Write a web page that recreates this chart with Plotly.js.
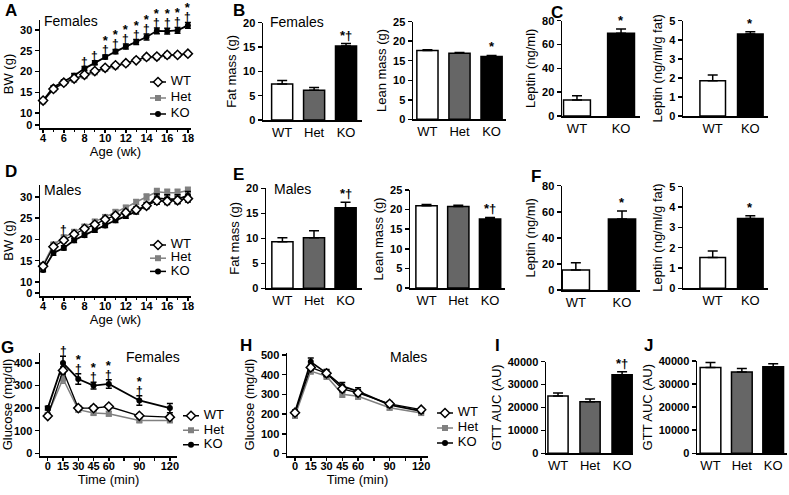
<!DOCTYPE html>
<html><head><meta charset="utf-8">
<script src="https://cdn.plot.ly/plotly-3.0.1.min.js"></script>
<style>html,body{margin:0;padding:0;background:#fff}#chart{width:789px;height:495px}</style>
</head><body><div id="chart"></div>
<script>
// ---------------- DATA ----------------
const weeks = [4,5,6,7,8,9,10,11,12,13,14,15,16,17,18];
const femWT    = [13.0,15.8,17.3,18.3,19.2,20.1,20.9,21.5,22.0,22.7,23.5,23.6,24.0,24.0,24.3];
const femWTErr = [0.4,0.4,0.4,0.4,0.4,0.4,0.4,0.4,0.4,0.4,0.4,0.5,0.6,0.4,0.4];
const femHet   = [12.8,15.7,17.2,18.0,18.9,19.8,20.6,21.2,21.9,22.8,23.3,23.4,23.8,24.0,24.2];
const femHetErr= [0.4,0.4,0.4,0.4,0.4,0.4,0.4,0.4,0.4,0.4,0.4,0.4,0.4,0.4,0.4];
const femKO    = [13.0,16.2,17.6,19.0,20.7,22.1,23.5,24.8,26.0,27.1,28.3,29.8,29.7,29.9,31.1];
const femKOErr = [0.4,0.4,0.4,0.5,0.5,0.5,0.5,0.5,0.6,0.6,0.7,0.7,0.7,0.7,0.7];
const femSig   = ['','','','','†','†','*†','*†','*†','*†','*†','*†','*†','*†','*†'];

const maleWT    = [13.7,18.3,19.8,21.2,22.5,23.5,24.7,25.6,26.3,27.0,27.9,29.1,29.0,29.2,29.6];
const maleWTErr = [0.4,0.5,0.5,0.5,0.5,0.5,0.5,0.5,0.5,0.6,0.6,0.8,0.8,0.8,0.8];
const maleHet   = [14.0,18.8,20.5,21.8,23.0,24.2,25.3,26.5,27.5,28.8,30.0,31.2,31.0,31.0,31.5];
const maleHetErr= [0.4,0.5,0.5,0.5,0.5,0.5,0.5,0.5,0.5,0.6,0.7,0.8,0.8,0.8,0.8];
const maleKO    = [12.8,16.8,18.0,19.8,21.0,22.2,23.3,24.5,25.5,26.6,28.0,29.7,29.5,29.5,30.3];
const maleKOErr = [0.4,0.5,0.5,0.5,0.5,0.5,0.5,0.5,0.5,0.6,0.7,1.0,1.0,1.0,1.0];
const maleSig   = ['','','†','','','','','','','','','','','',''];

const bwTickValsF = [7.1,10,15,20,25,30];
const bwTickValsM = [7.4,10,15,20,25,30];
const bwTickText  = ['0','10','15','20','25','30'];

const times = [0,15,30,45,60,90,120];
const timeTickVals = [0,15,30,45,60,75,90,105,120];
const timeTickText = ['0','15','30','45','60','','90','','120'];
const gFemWT     = [165,367,200,200,207,166,160];
const gFemWTErr  = [8,15,10,10,8,8,8];
const gFemHet    = [170,330,193,178,175,145,145];
const gFemHetErr = [8,20,10,8,10,8,8];
const gFemKO     = [200,400,329,300,307,234,200];
const gFemKOErr  = [8,30,23,15,19,21,20];
const gFemSig    = ['','†','*†','*†','*†','*†',''];

const gMaleWT     = [207,437,407,328,308,252,222];
const gMaleWTErr  = [10,15,15,15,15,12,10];
const gMaleHet    = [190,418,392,300,290,232,205];
const gMaleHetErr = [10,15,15,15,15,12,10];
const gMaleKO     = [210,465,408,342,315,247,215];
const gMaleKOErr  = [10,20,18,18,18,12,10];

const groups3 = ['WT','Het','KO'];
const groups2 = ['WT','KO'];
const fatF = [7.4,6.1,15.2],      fatFErr = [0.7,0.6,0.5],     fatFSig = ['','','*†'];
const leanF = [17.6,16.9,16.1],   leanFErr = [0.2,0.2,0.25],   leanFSig = ['','','*'];
const lepF = [13.5,69.5],         lepFErr = [3.5,3.5],         lepFSig = ['','*'];
const lepFatF = [1.85,4.3],       lepFatFErr = [0.3,0.12],     lepFatFSig = ['','*'];
const fatM = [9.3,10.1,16.1],     fatMErr = [0.8,1.4,1.1],     fatMSig = ['','','*†'];
const leanM = [21.0,20.8,17.6],   leanMErr = [0.3,0.3,0.4],    leanMSig = ['','','*†'];
const lepM = [15.4,54.5],         lepMErr = [5.5,6],           lepMSig = ['','*'];
const lepFatM = [1.52,3.44],      lepFatMErr = [0.32,0.13],    lepFatMSig = ['','*'];
const aucF = [25000,22500,34300], aucFErr = [1300,1200,1300],  aucFSig = ['','','*†'];
const aucM = [37200,35200,37500], aucMErr = [2200,1500,1300],  aucMSig = ['','',''];

const legendNames = ['WT','Het','KO'];
const legendRows  = [0,1,2];

// ---------------- STYLE / LAYOUT ----------------
const FONT = 'Liberation Sans, Arial, Helvetica, sans-serif';
const W = 789, H = 495;
const barColors3 = ['#ffffff','#666666','#000000'];
const barColors2 = ['#ffffff','#000000'];
const px = (a,b) => [a/W, b/W];
const py = (top,bot) => [1-bot/H, 1-top/H];

const layout = {
  width: W, height: H, margin:{l:0,r:0,t:0,b:0},
  paper_bgcolor:'#fff', plot_bgcolor:'rgba(0,0,0,0)',
  font:{family:FONT, color:'#000'},
  showlegend:false, annotations:[], shapes:[]
};
const traces = [];

function axisBase(){
  return {showline:true, linecolor:'#000', linewidth:1.5, showgrid:false, zeroline:false,
          ticks:'outside', ticklen:4, tickwidth:1.5, tickcolor:'#000', fixedrange:true,
          tickfont:{family:FONT, size:11, weight:'bold', color:'#000'}};
}
function title(t, s){ return {text:t, font:{family:FONT, size:13, color:'#000'}, standoff:s}; }

let nAx = 0;
function addAxes(xd, yd, xopt, yopt){
  nAx++;
  const xn = nAx===1 ? 'xaxis' : 'xaxis'+nAx, yn = nAx===1 ? 'yaxis' : 'yaxis'+nAx;
  const xr = nAx===1 ? 'x' : 'x'+nAx, yr = nAx===1 ? 'y' : 'y'+nAx;
  layout[xn] = Object.assign(axisBase(), {domain:xd, anchor:yr}, xopt);
  layout[yn] = Object.assign(axisBase(), {domain:yd, anchor:xr}, yopt);
  return {xr, yr};
}

function sigBar(ax, x, y, text){
  if(!text) return;
  layout.annotations.push({xref:ax.xr, yref:ax.yr, x:x, y:y, text:text, showarrow:false, borderpad:0,
    yanchor:'bottom', yshift:0, font:{family:FONT, size:13, weight:'bold', color:'#000'}});
}
// "*" stacked above "†" in one text, with tight line spacing
function sigStack(ax, x, y, text){
  if(!text) return;
  const parts = [];
  if(text.includes('*')) parts.push('<span style="font-size:13px">*</span>');
  if(text.includes('†')) parts.push('<span style="font-size:12px">†</span>');
  layout.annotations.push({xref:ax.xr, yref:ax.yr, x:x, y:y, text:parts.join('<br>'), showarrow:false, borderpad:0,
    yanchor:'bottom', yshift:-3, font:{family:FONT, size:7, weight:'bold', color:'#000'}});
}

function barPanel(xd, yd, cats, vals, errs, sig, xrange, width, yrange, dtick, ytitle){
  const ax = addAxes(xd, yd,
    {type:'category', range:xrange, ticks:'', tickfont:{family:FONT,size:13,color:'#000'}},
    {range:yrange, dtick:dtick, tick0:0, tickformat:'d', title:title(ytitle,3)});
  traces.push({type:'bar', x:cats, y:vals, xaxis:ax.xr, yaxis:ax.yr, width:width, showlegend:false,
    marker:{color:cats.length===3?barColors3:barColors2, line:{color:'#000', width:1.5}},
    error_y:{type:'data', array:errs, arrayminus:errs.map(()=>0), symmetric:false,
             color:'#000', thickness:1.5, width:5}});
  cats.forEach((c,i)=>sigBar(ax, c, vals[i]+errs[i], sig[i]));
  return ax;
}

const SER = {
  WT:{marker:{symbol:'diamond', size:7, color:'#fff', line:{color:'#000', width:1.5}}, line:{color:'#000', width:1.3}, ec:'#000'},
  Het:{marker:{symbol:'square', size:6, color:'#808080', line:{color:'#808080', width:0}}, line:{color:'#808080', width:1.5}, ec:'#808080'},
  KO:{marker:{symbol:'circle', size:6, color:'#000', line:{color:'#000', width:0}}, line:{color:'#000', width:1.8}, ec:'#000'}
};
function lineSeries(ax, name, x, y, err){
  const s = SER[name];
  traces.push({type:'scatter', mode:'lines+markers', name:name, x:x, y:y, xaxis:ax.xr, yaxis:ax.yr,
    showlegend:false, marker:s.marker, line:s.line, cliponaxis:false,
    error_y:{type:'data', array:err, color:s.ec, thickness:1.5, width:3}});
}
// small key drawn as its own mini plot: line segment, marker, and label per series
// x units: 1 unit = 16 px; line spans [0,1], marker at 0.5, label starts at 1.3
const keySpan = [0,1], keyMid = 0.5, keyText = 1.3, keyRange = [0,2.5];
function miniLegend(x0, yd){
  const ax = addAxes(px(x0, x0+40), yd, {visible:false, range:keyRange}, {visible:false, range:[legendRows.length-0.5,-0.5]});
  legendNames.forEach((n,i)=>{
    const s = SER[n];
    traces.push({type:'scatter', mode:'lines', x:keySpan, y:[legendRows[i],legendRows[i]], xaxis:ax.xr, yaxis:ax.yr,
      line:{color:s.line.color, width:1.5}, showlegend:false, cliponaxis:false, hoverinfo:'skip'});
    traces.push({type:'scatter', mode:'markers', x:[keyMid], y:[legendRows[i]], xaxis:ax.xr, yaxis:ax.yr,
      marker:s.marker, showlegend:false, cliponaxis:false, hoverinfo:'skip'});
    traces.push({type:'scatter', mode:'text', x:[keyText], y:[legendRows[i]], text:[n], textposition:'middle right',
      textfont:{family:FONT, size:13, color:'#000'}, xaxis:ax.xr, yaxis:ax.yr, showlegend:false, cliponaxis:false, hoverinfo:'skip'});
  });
}
function label(t, x, y, size, bold){
  layout.annotations.push({xref:'paper', yref:'paper', x:x/W, y:1-y/H, text:t, showarrow:false,
    xanchor:'center', yanchor:'middle', font:{family:FONT, size:size, color:'#000', weight: bold?'bold':'normal'}});
}
const xTickTight = {ticklen:3, ticklabelstandoff:-4};

// ---- A: female body weight
const axA = addAxes(px(40,191), py(20,128),
  Object.assign({range:[3.7,18.3], tick0:4, dtick:2, minor:{dtick:1, ticklen:2, tickwidth:1, ticks:'outside', tickcolor:'#000'}, title:title('Age (wk)',0)}, xTickTight),
  {range:[6.4,32.4], tickvals:bwTickValsF, ticktext:bwTickText, title:title('BW (g)',3)});
lineSeries(axA,'Het',weeks,femHet,femHetErr);
lineSeries(axA,'KO',weeks,femKO,femKOErr);
lineSeries(axA,'WT',weeks,femWT,femWTErr);
weeks.forEach((w,i)=>sigStack(axA, w, Math.max(femKO[i]+femKOErr[i], femWT[i]+femWTErr[i], femHet[i]+femHetErr[i]), femSig[i]));
miniLegend(150, py(74,122));

// ---- B
barPanel(px(263,362), py(22.7,120), groups3, fatF, fatFErr, fatFSig, [-0.6,2.5], 0.66, [0,20], 5, 'Fat mass (g)');
barPanel(px(413,506), py(21.7,119.3), groups3, leanF, leanFErr, leanFSig, [-0.45,2.45], 0.66, [0,25], 5, 'Lean mass (g)');
// ---- C
barPanel(px(562,640), py(20.7,116), groups2, lepF, lepFErr, lepFSig, [-0.34,1.43], 0.61, [0,80], 20, 'Leptin (ng/ml)');
barPanel(px(683,768), py(20.7,116), groups2, lepFatF, lepFatFErr, lepFatFSig, [-0.79,1.47], 0.68, [0,5], 1, 'Leptin (ng/ml/g fat)');

// ---- D: male body weight
const axD = addAxes(px(40,191), py(185,296),
  Object.assign({range:[3.7,18.3], tick0:4, dtick:2, minor:{dtick:1, ticklen:2, tickwidth:1, ticks:'outside', tickcolor:'#000'}, title:title('Age (wk)',0)}, xTickTight),
  {range:[6.7,32.8], tickvals:bwTickValsM, ticktext:bwTickText, title:title('BW (g)',3)});
lineSeries(axD,'Het',weeks,maleHet,maleHetErr);
lineSeries(axD,'KO',weeks,maleKO,maleKOErr);
lineSeries(axD,'WT',weeks,maleWT,maleWTErr);
weeks.forEach((w,i)=>sigStack(axD, w, Math.max(maleKO[i]+maleKOErr[i], maleWT[i]+maleWTErr[i], maleHet[i]+maleHetErr[i]), maleSig[i]));
miniLegend(150, py(238.4,278));

// ---- E
barPanel(px(266,362), py(188.3,288.3), groups3, fatM, fatMErr, fatMSig, [-0.52,2.52], 0.67, [0,20], 5, 'Fat mass (g)');
barPanel(px(410,505), py(190,288), groups3, leanM, leanMErr, leanMSig, [-0.52,2.47], 0.67, [0,25], 5, 'Lean mass (g)');
// ---- F
barPanel(px(562,640), py(185.7,290), groups2, lepM, lepMErr, lepMSig, [-0.3,1.39], 0.59, [0,80], 20, 'Leptin (ng/ml)');
barPanel(px(683,768), py(186.7,288.3), groups2, lepFatM, lepFatMErr, lepFatMSig, [-0.79,1.47], 0.68, [0,5], 1, 'Leptin (ng/ml/g fat)');

// ---- G: female GTT
const axG = addAxes(px(40,177), py(353,456),
  Object.assign({range:[-7.6,127], tickvals:timeTickVals, ticktext:timeTickText, title:title('Time (min)',0)}, xTickTight),
  {range:[-12,444], tickvals:[0,100,200,300,400], title:title('Glucose (mg/dl)',3)});
lineSeries(axG,'Het',times,gFemHet,gFemHetErr);
lineSeries(axG,'KO',times,gFemKO,gFemKOErr);
lineSeries(axG,'WT',times,gFemWT,gFemWTErr);
times.forEach((t,i)=>sigStack(axG, t, gFemKO[i]+gFemKOErr[i], gFemSig[i]));
miniLegend(183, py(408.5,452));

// ---- H: male GTT
const axH = addAxes(px(287,428), py(353,456),
  Object.assign({range:[-7.6,126.5], tickvals:timeTickVals, ticktext:timeTickText, title:title('Time (min)',0)}, xTickTight),
  {range:[-13,510], tickvals:[0,100,200,300,400,500], title:title('Glucose (mg/dl)',3)});
lineSeries(axH,'Het',times,gMaleHet,gMaleHetErr);
lineSeries(axH,'KO',times,gMaleKO,gMaleKOErr);
lineSeries(axH,'WT',times,gMaleWT,gMaleWTErr);
miniLegend(437, py(405.5,450.5));

// ---- I, J
barPanel(px(546,633), py(361.7,453.3), groups3, aucF, aucFErr, aucFSig, [-0.375,2.34], 0.63, [0,40000], 10000, 'GTT AUC (AU)');
barPanel(px(697,787), py(361,453.3), groups3, aucM, aucMErr, aucMSig, [-0.43,2.44], 0.66, [0,40000], 10000, 'GTT AUC (AU)');

// ---- panel letters and group labels
[['A',11,10],['B',239,10],['C',557,12],['D',11,171],['E',238,174],['F',536,176],
 ['G',7,347],['H',246,345],['I',497,345],['J',648,345]].forEach(l=>label(l[0],l[1],l[2],17,true));
[['Females',71,21],['Females',297,22],['Males',62,190],['Males',292,189],['Females',153,357],['Males',408,357]]
 .forEach(l=>label(l[0],l[1],l[2],14,false));

Plotly.newPlot('chart', traces, layout, {staticPlot:true, displayModeBar:false});
</script></body></html>
